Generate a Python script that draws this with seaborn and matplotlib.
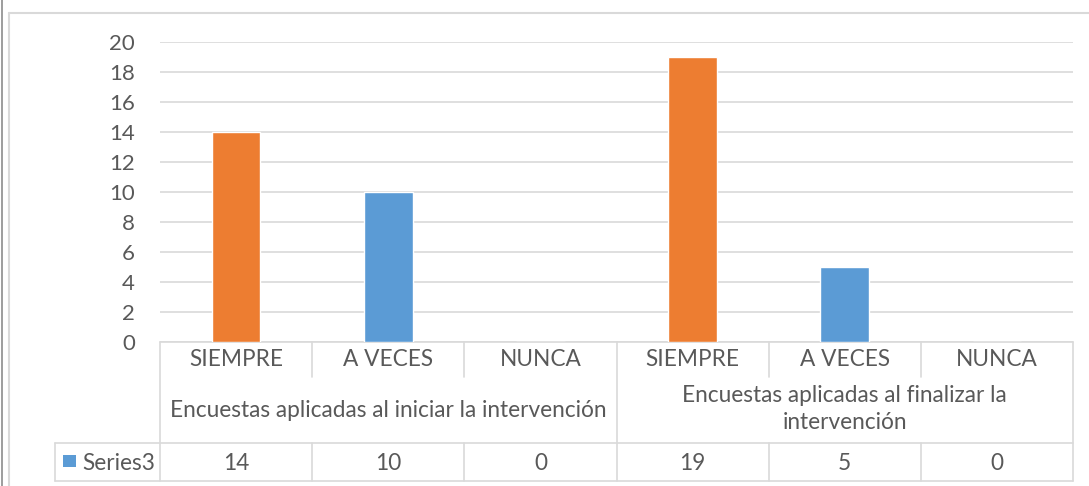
import matplotlib
matplotlib.use("Agg")
import matplotlib.pyplot as plt
import matplotlib.transforms as mtransforms
from matplotlib.lines import Line2D
from matplotlib.patches import Rectangle
import pandas as pd
import seaborn as sns

# data
respuestas = ["SIEMPRE", "A VECES", "NUNCA", "SIEMPRE", "A VECES", "NUNCA"]
grupos = ["Encuestas aplicadas al iniciar la intervención",
          "Encuestas aplicadas al finalizar la\nintervención"]
valores = [14, 10, 0, 19, 5, 0]
serie = "Series3"

orange = "#ED7D31"
blue = "#5B9BD5"
text_col = "#595959"
line_col = "#d9d9d9"

df = pd.DataFrame({
    "pos": [str(i) for i in range(len(valores))],
    "resp": respuestas,
    "valor": valores,
})

sns.set_theme(style="white")
plt.rcParams["font.family"] = ["Lato", "DejaVu Sans"]

W, H = 1089, 486
fig = plt.figure(figsize=(W / 100, H / 100), dpi=100)
ax = fig.add_axes([160 / W, 1 - 342 / H, (1073 - 160) / W, 300 / H])

sns.barplot(data=df, x="pos", y="valor", hue="resp",
            palette={"SIEMPRE": orange, "A VECES": blue, "NUNCA": "#A5A5A5"},
            dodge=False, width=0.32, saturation=1, legend=False, ax=ax,
            zorder=3)

ax.set_xlim(-0.5, 5.5)
ax.set_ylim(0, 20)
ax.set_yticks(range(0, 21, 2))
ax.yaxis.grid(True, color=line_col, linewidth=1.2, zorder=0)
ax.set_axisbelow(True)
for s in ax.spines.values():
    s.set_visible(False)
ax.set_xticks([])
ax.set_xlabel("")
ax.set_ylabel("")
ax.tick_params(axis="y", length=0, labelsize=16, labelcolor=text_col, pad=18)

# data table under the plot (x in data units, y in axes fraction)
tr = mtransforms.blended_transform_factory(ax.transData, ax.transAxes)
y_cat = -35 / 300
y_grp = -101 / 300
y_bot = -139 / 300
x_left = -0.5 - 105 / 152
lw = 1.2

def seg(x0, x1, y0, y1):
    ax.add_line(Line2D([x0, x1], [y0, y1], transform=tr, color=line_col,
                       lw=lw, clip_on=False))

seg(-0.5, 5.5, 0, 0)
seg(x_left, 5.5, y_grp, y_grp)
seg(x_left, 5.5, y_bot, y_bot)
seg(x_left, x_left, y_grp, y_bot)
for xb in [-0.5, 2.5, 5.5]:
    seg(xb, xb, 0, y_bot)
for xb in [0.5, 1.5, 3.5, 4.5]:
    seg(xb, xb, 0, y_cat)
for xb in [0.5, 1.5, 3.5, 4.5]:
    seg(xb, xb, y_grp, y_bot)

fs = 16.3
for i, r in enumerate(respuestas):
    ax.text(i, -17 / 300, r, transform=tr, ha="center", va="center",
            fontsize=fs, color=text_col)
    ax.text(i, -121 / 300, str(valores[i]), transform=tr, ha="center",
            va="center", fontsize=fs, color=text_col)
ax.text(1, -68 / 300, grupos[0], transform=tr, ha="center", va="center",
        fontsize=fs, color=text_col)
ax.text(4, -67 / 300, grupos[1], transform=tr, ha="center", va="center",
        fontsize=fs, color=text_col, linespacing=1.35)

# legend key in the table
fig.add_artist(Rectangle((63 / W, 1 - 467 / H), 13 / W, 12 / H,
                         transform=fig.transFigure, color=blue, lw=0))
ax.text(x_left + 27 / 152, -121 / 300, serie, transform=tr, ha="left",
        va="center", fontsize=fs, color=text_col)

# chart area border
fig.add_artist(Line2D([9 / W, 1], [1 - 13 / H, 1 - 13 / H], color=line_col,
                      lw=1.5, transform=fig.transFigure))
fig.add_artist(Line2D([9 / W, 9 / W], [0, 1 - 13 / H], color=line_col,
                      lw=1.5, transform=fig.transFigure))
fig.add_artist(Line2D([1.5 / W, 1.5 / W], [0, 1], color="#8c8c8c",
                      lw=1.2, transform=fig.transFigure))

fig.savefig("out.png", dpi=100)
